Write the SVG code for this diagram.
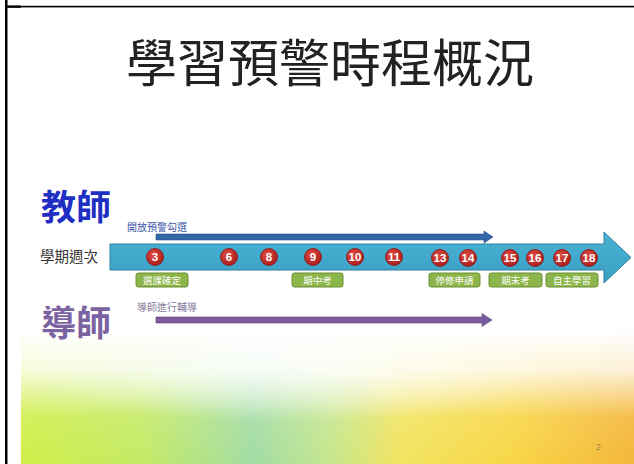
<svg xmlns="http://www.w3.org/2000/svg" width="634" height="464" viewBox="0 0 634 464">
<defs>
<linearGradient id="band" x1="0" y1="0" x2="1" y2="0">
<stop offset="0" stop-color="#d0ee48"/>
<stop offset="0.2" stop-color="#c4ea66"/>
<stop offset="0.38" stop-color="#a2dca4"/>
<stop offset="0.5" stop-color="#c4e68e"/>
<stop offset="0.62" stop-color="#f2e460"/>
<stop offset="0.8" stop-color="#f8d646"/>
<stop offset="1" stop-color="#f4b63a"/>
</linearGradient>
<linearGradient id="fade" x1="0" y1="0" x2="0" y2="1">
<stop offset="0" stop-color="#ffffff" stop-opacity="1"/>
<stop offset="0.3" stop-color="#ffffff" stop-opacity="0.8"/>
<stop offset="0.65" stop-color="#ffffff" stop-opacity="0.1"/>
<stop offset="1" stop-color="#ffffff" stop-opacity="0"/>
</linearGradient>
<radialGradient id="glow" cx="0.45" cy="0.25" r="0.45">
<stop offset="0" stop-color="#ffffff" stop-opacity="0.6"/>
<stop offset="1" stop-color="#ffffff" stop-opacity="0"/>
</radialGradient>
<radialGradient id="ball" cx="0.4" cy="0.35" r="0.7">
<stop offset="0" stop-color="#e04a40"/>
<stop offset="1" stop-color="#a81c1c"/>
</radialGradient>
<linearGradient id="big" x1="0" y1="0" x2="0" y2="1">
<stop offset="0" stop-color="#49b3d3"/>
<stop offset="1" stop-color="#3a9fc4"/>
</linearGradient>
<style>
.cjk{font-family:"Noto Sans CJK TC","Noto Sans CJK SC",sans-serif}
.num{font-family:"Liberation Sans",Arial,sans-serif;font-weight:bold;font-size:11.5px;fill:#fff;text-anchor:middle}
.ball{fill:url(#ball);stroke:#8a1414;stroke-width:0.8}
.tag rect{fill:#8cb64a;stroke:#6a8e32;stroke-width:1}
.tag text{font-family:"Noto Sans CJK TC","Noto Sans CJK SC",sans-serif;font-size:9.5px;fill:#fff;text-anchor:middle}
</style>
</defs>
<rect x="0" y="0" width="634" height="464" fill="#fff"/>
<g id="background">
<rect x="21" y="330" width="613" height="134" fill="url(#band)"/>
<rect x="21" y="330" width="613" height="134" fill="url(#fade)"/>
<rect x="21" y="330" width="613" height="134" fill="url(#glow)"/>
</g>
<g id="frame" fill="#000">
<rect x="5" y="0" width="2.5" height="464"/>
<rect x="7" y="5.8" width="627" height="1.6"/>
<rect x="7" y="5.5" width="14" height="2.3"/>
</g>
<g id="title"><text class="cjk" x="330" y="82" font-size="51" fill="#222" text-anchor="middle">學習預警時程概況</text></g>
<g id="teacher"><text class="cjk" x="41" y="220" font-size="35" font-weight="bold" fill="#1f2fc4">教師</text></g>
<g id="mentor"><text class="cjk" x="41" y="336" font-size="35" font-weight="bold" fill="#7b62a0">導師</text></g>
<g id="weeklabel"><text class="cjk" x="40" y="262" font-size="14.5" fill="#333">學期週次</text></g>
<g id="connectors">
<path id="bigarrow" d="M110,244 H604 V232 L631,257.5 L604,283 V270 H110 Z" fill="url(#big)" stroke="#2f7f9f" stroke-width="1"/>
<path id="teacherarrow" d="M156,234 H484 V231 L493,237 L484,243 V240 H156 Z" fill="#3566a8" stroke="#2a4f86" stroke-width="0.6"/>
<path id="mentorarrow" d="M156,317 H482 V313.5 L492,320 L482,326.5 V323 H156 Z" fill="#7a5a9c" stroke="#5c4080" stroke-width="0.6"/>
</g>
<g id="teacher-label"><text class="cjk" x="127" y="231" font-size="10" fill="#3a54a8">開放預警勾選</text></g>
<g id="mentor-label"><text class="cjk" x="137" y="311" font-size="10" fill="#8a7aa0">導師進行輔導</text></g>
<g id="weeks">
<g id="w3"><circle class="ball" cx="155" cy="257" r="8.5"/><text class="num" x="155" y="261">3</text></g>
<g id="w6"><circle class="ball" cx="229" cy="257" r="8.5"/><text class="num" x="229" y="261">6</text></g>
<g id="w8"><circle class="ball" cx="269" cy="257" r="8.5"/><text class="num" x="269" y="261">8</text></g>
<g id="w9"><circle class="ball" cx="313" cy="257" r="8.5"/><text class="num" x="313" y="261">9</text></g>
<g id="w10"><circle class="ball" cx="355" cy="257" r="8.5"/><text class="num" x="355" y="261">10</text></g>
<g id="w11"><circle class="ball" cx="394" cy="257" r="8.5"/><text class="num" x="394" y="261">11</text></g>
<g id="w13"><circle class="ball" cx="440" cy="258" r="8.5"/><text class="num" x="440" y="262">13</text></g>
<g id="w14"><circle class="ball" cx="468" cy="258" r="8.5"/><text class="num" x="468" y="262">14</text></g>
<g id="w15"><circle class="ball" cx="510" cy="258" r="8.5"/><text class="num" x="510" y="262">15</text></g>
<g id="w16"><circle class="ball" cx="535" cy="258" r="8.5"/><text class="num" x="535" y="262">16</text></g>
<g id="w17"><circle class="ball" cx="562" cy="258" r="8.5"/><text class="num" x="562" y="262">17</text></g>
<g id="w18"><circle class="ball" cx="589" cy="258" r="8.5"/><text class="num" x="589" y="262">18</text></g>
</g>
<g id="tags">
<g id="t1" class="tag"><rect x="136" y="273" width="52" height="14" rx="2.5"/><text x="162" y="283.5">選課確定</text></g>
<g id="t2" class="tag"><rect x="292" y="273" width="51" height="14" rx="2.5"/><text x="317.5" y="283.5">期中考</text></g>
<g id="t3" class="tag"><rect x="429" y="273" width="51" height="14" rx="2.5"/><text x="454.5" y="283.5">停修申請</text></g>
<g id="t4" class="tag"><rect x="489" y="273" width="53" height="14" rx="2.5"/><text x="515.5" y="283.5">期末考</text></g>
<g id="t5" class="tag"><rect x="546" y="273" width="52" height="14" rx="2.5"/><text x="572" y="283.5">自主學習</text></g>
</g>
<g id="pagenum"><text x="596" y="450" font-family="Liberation Sans,Arial,sans-serif" font-size="9" fill="#a08a50">2</text></g>
</svg>
